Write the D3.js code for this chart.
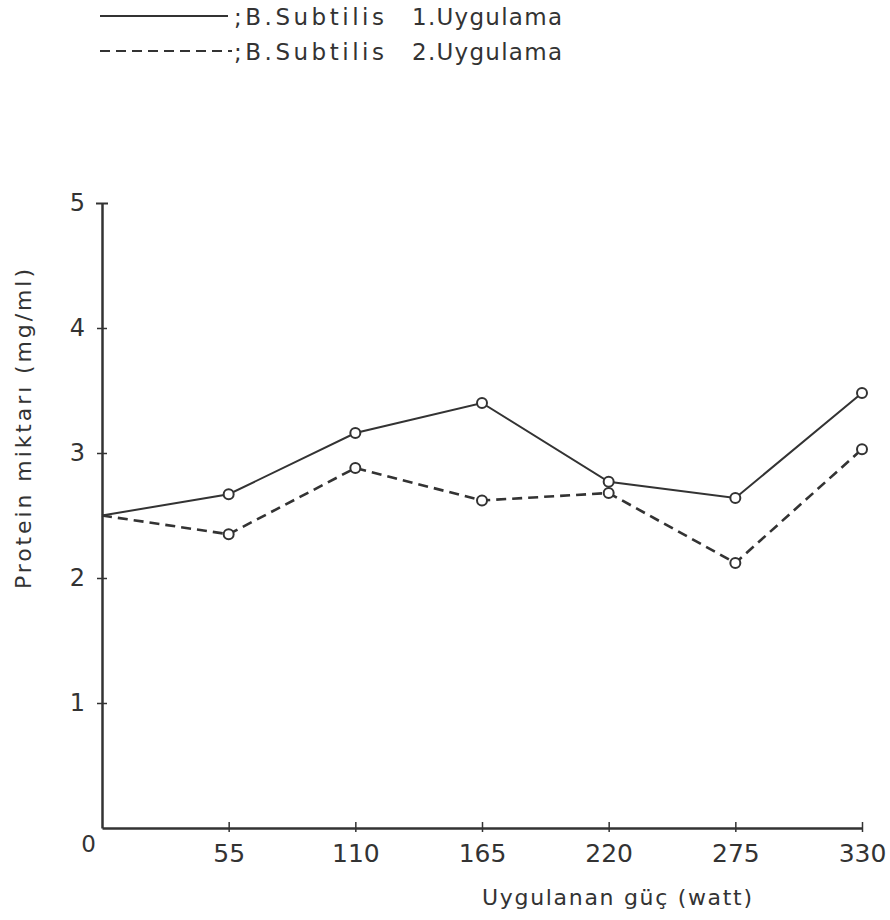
<!DOCTYPE html>
<html>
<head>
<meta charset="utf-8">
<script src="https://cdn.jsdelivr.net/npm/d3@7"></script>
<style>
  body { margin: 0; background: #fff; }
  text { font-family: "DejaVu Sans", sans-serif; fill: #333; }
</style>
</head>
<body>
<div id="chart"></div>
<script>
// power levels (watt) and protein amounts
var watts = [0, 55, 110, 165, 220, 275, 330];
var uygulama1 = [2.5, 2.67, 3.16, 3.40, 2.77, 2.64, 3.48];
var uygulama2 = [2.5, 2.35, 2.88, 2.62, 2.68, 2.12, 3.03];
var yTicks = [0, 1, 2, 3, 4, 5];
var legendNames = ["B.Subtilis", "B.Subtilis"];
var legendRuns = ["1.Uygulama", "2.Uygulama"];

var width = 890, height = 920;
var ink = "#333";
var numFont = "'DejaVu Sans Condensed', 'DejaVu Sans', sans-serif";

var svg = d3.select("#chart").append("svg")
    .attr("width", width)
    .attr("height", height);

var x = d3.scaleLinear().domain([0, 330]).range([102, 862]);
var y = d3.scaleLinear().domain([0, 5]).range([828, 203]);

// axes
var xAxis = d3.axisBottom(x)
    .tickValues(watts)
    .tickSizeInner(-6)
    .tickSizeOuter(0)
    .tickPadding(10);
var gx = svg.append("g")
    .attr("transform", "translate(0," + y(0) + ")")
    .call(xAxis);
gx.select(".domain").attr("stroke", ink).attr("stroke-width", 2.5);
gx.selectAll(".tick line").attr("stroke", ink).attr("stroke-width", 1.5)
    .attr("y1", 4);
gx.selectAll(".tick text")
    .attr("font-size", 25)
    .attr("font-family", numFont)
    .attr("dy", "0.95em")
    .style("fill", ink);
// the 0 sits left of the corner, a bit higher
var zero = gx.selectAll(".tick").filter(function(d) { return d === 0; });
zero.select("line").remove();
zero.select("text").attr("x", -14).attr("y", 2).attr("font-size", 23);

var yAxis = d3.axisLeft(y)
    .tickValues(yTicks)
    .tickFormat(d3.format("d"))
    .tickSizeInner(5)
    .tickSizeOuter(0)
    .tickPadding(12);
var gy = svg.append("g")
    .attr("transform", "translate(" + x(0) + ",0)")
    .call(yAxis);
gy.select(".domain").attr("stroke", ink).attr("stroke-width", 2.5);
gy.selectAll(".tick line").attr("stroke", ink).attr("stroke-width", 1.5)
    .attr("x2", 5).attr("x1", -5);
gy.selectAll(".tick text")
    .attr("font-size", 24)
    .attr("font-family", numFont)
    .style("fill", ink);
gy.selectAll(".tick").filter(function(d) { return d === 0; }).remove();
gy.selectAll(".tick").filter(function(d) { return d === 5; })
    .select("line").attr("x1", -6).attr("x2", 6).attr("stroke-width", 2);

// axis titles
svg.append("text")
    .attr("x", 482)
    .attr("y", 905)
    .attr("font-size", 22)
    .attr("textLength", 270)
    .attr("lengthAdjust", "spacing")
    .text("Uygulanan güç (watt)");

svg.append("text")
    .attr("transform", "translate(31,589) rotate(-90)")
    .attr("font-size", 22)
    .attr("textLength", 320)
    .attr("lengthAdjust", "spacing")
    .text("Protein miktarı (mg/ml)");

// series
var series = [
  { values: uygulama1, dash: null, width: 2 },
  { values: uygulama2, dash: "10,6", width: 2.6 }
];

var line = d3.line()
    .x(function(d, i) { return x(watts[i]); })
    .y(function(d) { return y(d); });

series.forEach(function(s) {
  svg.append("path")
      .datum(s.values)
      .attr("fill", "none")
      .attr("stroke", ink)
      .attr("stroke-width", s.width)
      .attr("stroke-dasharray", s.dash)
      .attr("d", line);

  // no marker on the shared starting point
  svg.selectAll(null)
      .data(s.values.slice(1))
    .enter().append("circle")
      .attr("cx", function(d, i) { return x(watts[i + 1]); })
      .attr("cy", function(d) { return y(d); })
      .attr("r", 5)
      .attr("fill", "#fff")
      .attr("stroke", ink)
      .attr("stroke-width", 2);
});

// legend
var legend = svg.append("g");
legendNames.forEach(function(name, i) {
  var ly = 16 + i * 35;
  legend.append("line")
      .attr("x1", 100).attr("x2", i ? 232 : 228)
      .attr("y1", ly).attr("y2", ly)
      .attr("stroke", ink)
      .attr("stroke-width", 2)
      .attr("stroke-dasharray", series[i].dash);
  legend.append("text")
      .attr("x", 234)
      .attr("y", ly + 9)
      .attr("font-size", 23)
      .attr("textLength", 150)
      .attr("lengthAdjust", "spacing")
      .text(";" + name);
  legend.append("text")
      .attr("x", 412)
      .attr("y", ly + 9)
      .attr("font-size", 23)
      .attr("textLength", 150)
      .attr("lengthAdjust", "spacing")
      .text(legendRuns[i]);
});
</script>
</body>
</html>
